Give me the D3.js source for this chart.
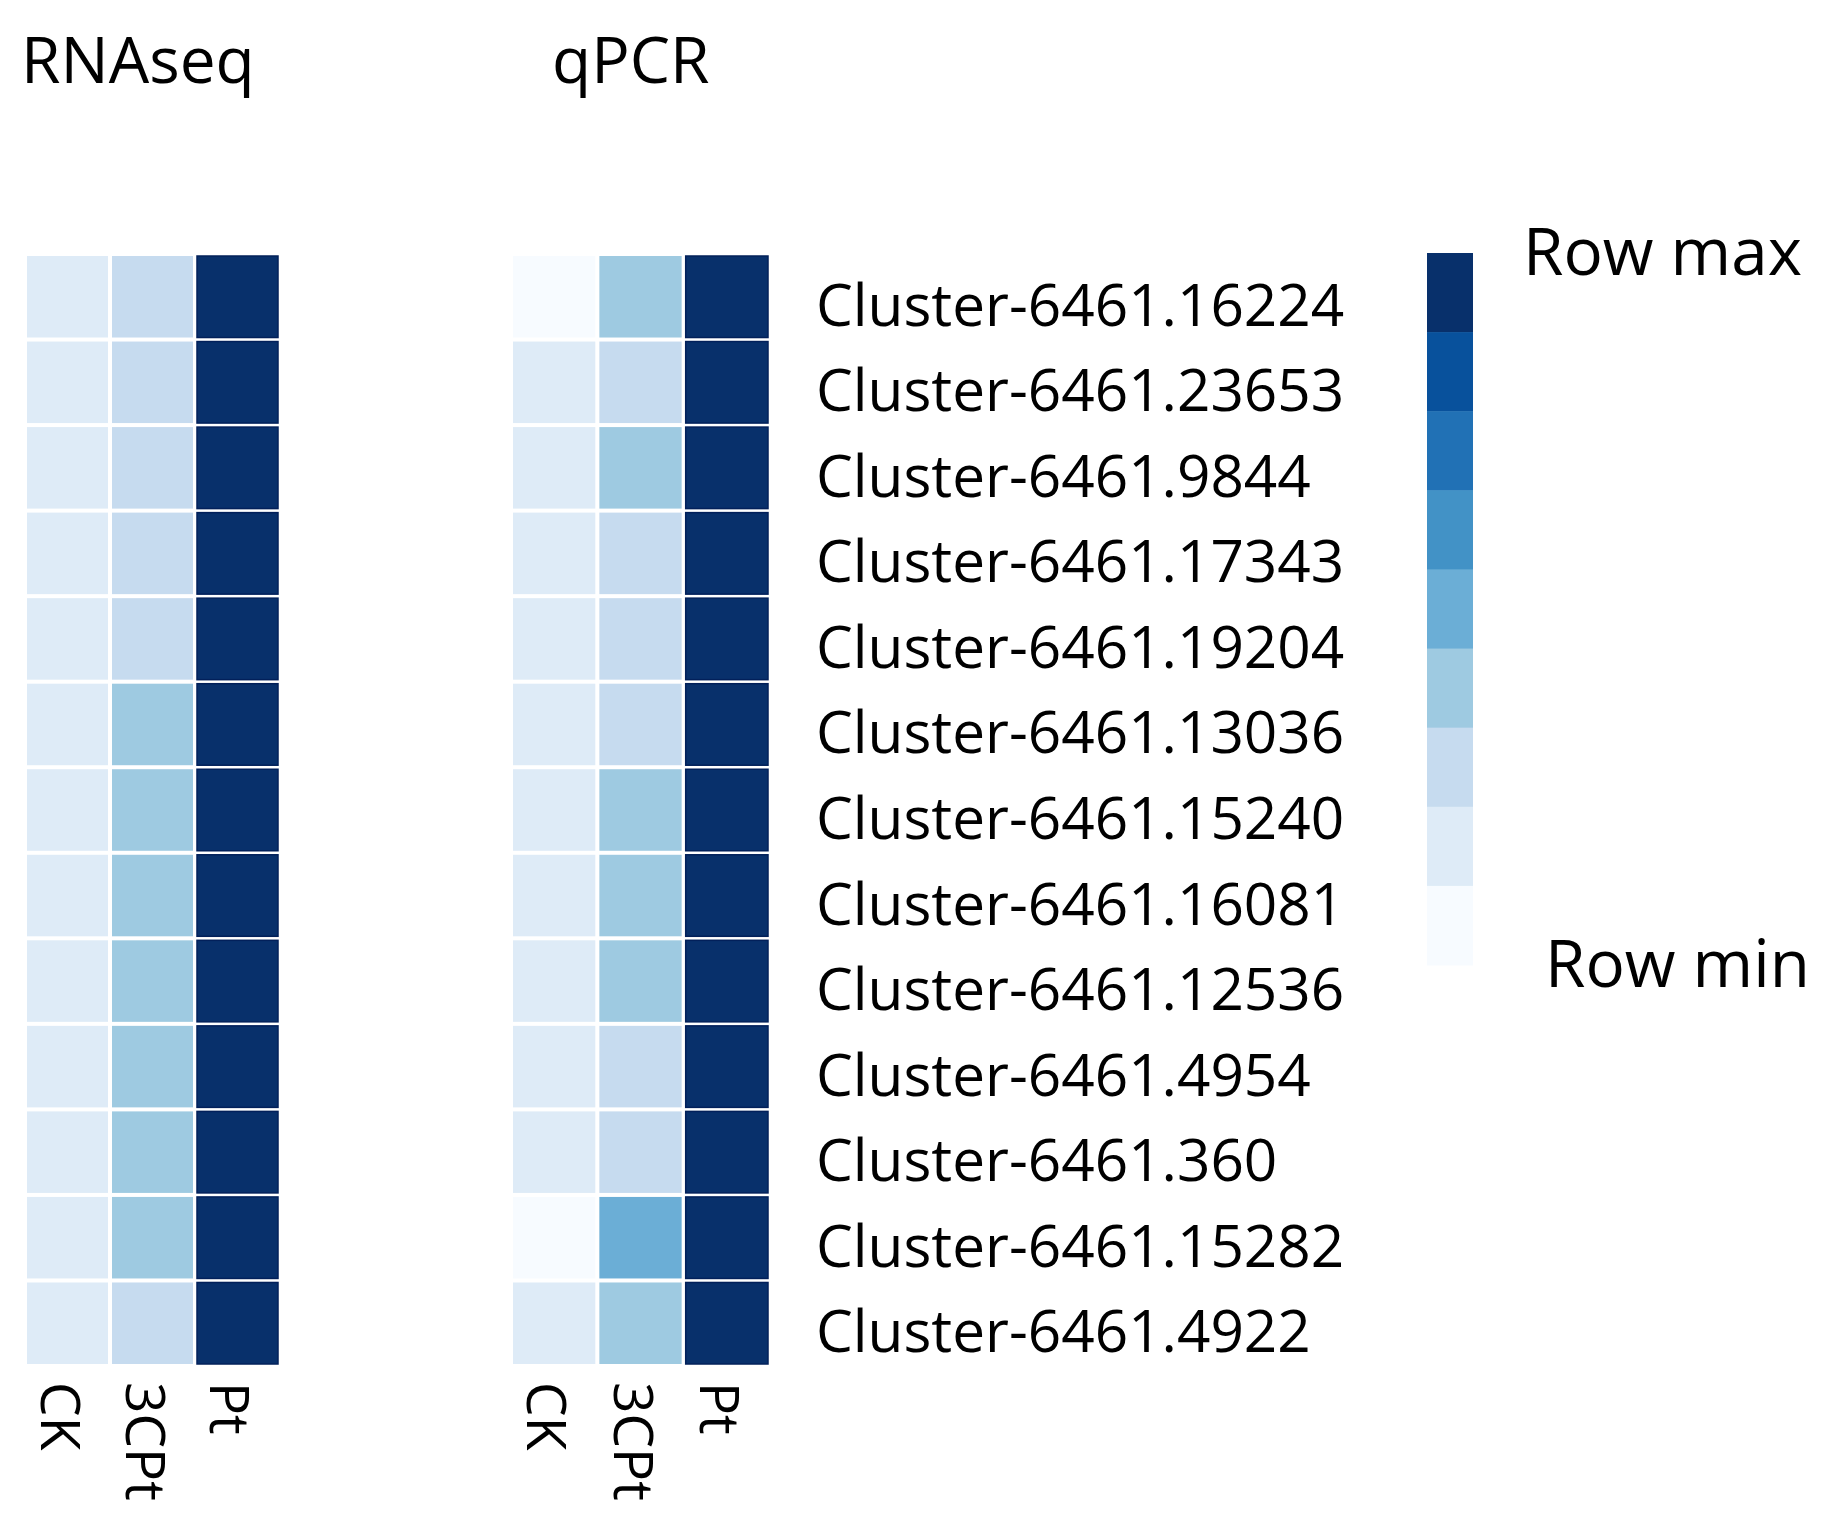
<!DOCTYPE html>
<html>
<head>
<meta charset="utf-8">
<script src="https://cdn.jsdelivr.net/npm/d3@7"></script>
<style>
  html, body { margin: 0; padding: 0; background: #fff; }
  svg { display: block; }
  text { font-family: "Open Sans", "Noto Sans", sans-serif; fill: #000; }
</style>
</head>
<body>
<svg id="chart" width="1840" height="1530"></svg>
<script>
// ---- data (row-normalised expression, 0 = row min, 1 = row max) ----
const genes = [
  "Cluster-6461.16224", "Cluster-6461.23653", "Cluster-6461.9844",
  "Cluster-6461.17343", "Cluster-6461.19204", "Cluster-6461.13036",
  "Cluster-6461.15240", "Cluster-6461.16081", "Cluster-6461.12536",
  "Cluster-6461.4954", "Cluster-6461.360", "Cluster-6461.15282",
  "Cluster-6461.4922"
];
const samples = ["CK", "3CPt", "Pt"];
const panelTitles = ["RNAseq", "qPCR"];
const legendLabels = ["Row max", "Row min"];

const rnaseqCK   = [0.15, 0.15, 0.15, 0.15, 0.15, 0.15, 0.15, 0.15, 0.15, 0.15, 0.15, 0.15, 0.15];
const rnaseq3CPt = [0.28, 0.28, 0.28, 0.28, 0.28, 0.38, 0.38, 0.38, 0.38, 0.38, 0.38, 0.38, 0.28];
const rnaseqPt   = [1, 1, 1, 1, 1, 1, 1, 1, 1, 1, 1, 1, 1];

const qpcrCK   = [0.05, 0.15, 0.15, 0.15, 0.15, 0.15, 0.15, 0.15, 0.15, 0.15, 0.15, 0.05, 0.15];
const qpcr3CPt = [0.38, 0.28, 0.38, 0.28, 0.28, 0.28, 0.38, 0.38, 0.38, 0.28, 0.28, 0.50, 0.38];
const qpcrPt   = [1, 1, 1, 1, 1, 1, 1, 1, 1, 1, 1, 1, 1];

// ---- drawing ----
const svg = d3.select("#chart");
const palette = d3.schemeBlues[9];
const color = d3.scaleQuantize().domain([0, 1]).range(palette);

const y = d3.scaleBand().domain(genes).range([256, 1364]).paddingInner(0.047);

function panel(range, series, title, titleX) {
  const x = d3.scaleBand().domain(samples).range(range).paddingInner(0.047);
  const cells = [];
  samples.forEach((s, j) => genes.forEach((g, i) => cells.push({ s, g, v: series[j][i] })));
  const gp = svg.append("g");
  gp.selectAll("rect").data(cells).join("rect")
    .attr("x", d => x(d.s))
    .attr("y", d => y(d.g))
    .attr("width", x.bandwidth())
    .attr("height", y.bandwidth())
    .attr("fill", d => color(d.v))
    .attr("stroke", d => d.v >= 0.9 ? "#02205a" : "none")
    .attr("stroke-width", 1.5);
  gp.selectAll("text.col").data(samples).join("text")
    .attr("class", "col")
    .attr("transform", d => `translate(${x(d) + x.bandwidth() / 2 - 27},1382) rotate(90)`)
    .attr("font-size", 55)
    .text(d => d);
  svg.append("text")
    .attr("x", titleX).attr("y", 83)
    .attr("font-size", 64)
    .text(title);
}

panel([27, 278], [rnaseqCK, rnaseq3CPt, rnaseqPt], panelTitles[0], 21);
panel([513, 768], [qpcrCK, qpcr3CPt, qpcrPt], panelTitles[1], 552);

// row labels
svg.append("g").selectAll("text").data(genes).join("text")
  .attr("x", 816)
  .attr("y", d => y(d) + y.bandwidth() / 2 + 29)
  .attr("font-size", 58.5)
  .text(d => d);

// legend
const levels = d3.range(9).reverse();
const ly = d3.scaleBand().domain(levels).range([253, 965]);
svg.append("g").selectAll("rect").data(levels).join("rect")
  .attr("x", 1427).attr("width", 46)
  .attr("y", d => ly(d)).attr("height", ly.bandwidth() + 0.5)
  .attr("fill", d => palette[d]);
svg.append("text").attr("x", 1523).attr("y", 275).attr("font-size", 65.5).text(legendLabels[0]);
svg.append("text").attr("x", 1545).attr("y", 987).attr("font-size", 65.5).text(legendLabels[1]);
</script>
</body>
</html>
